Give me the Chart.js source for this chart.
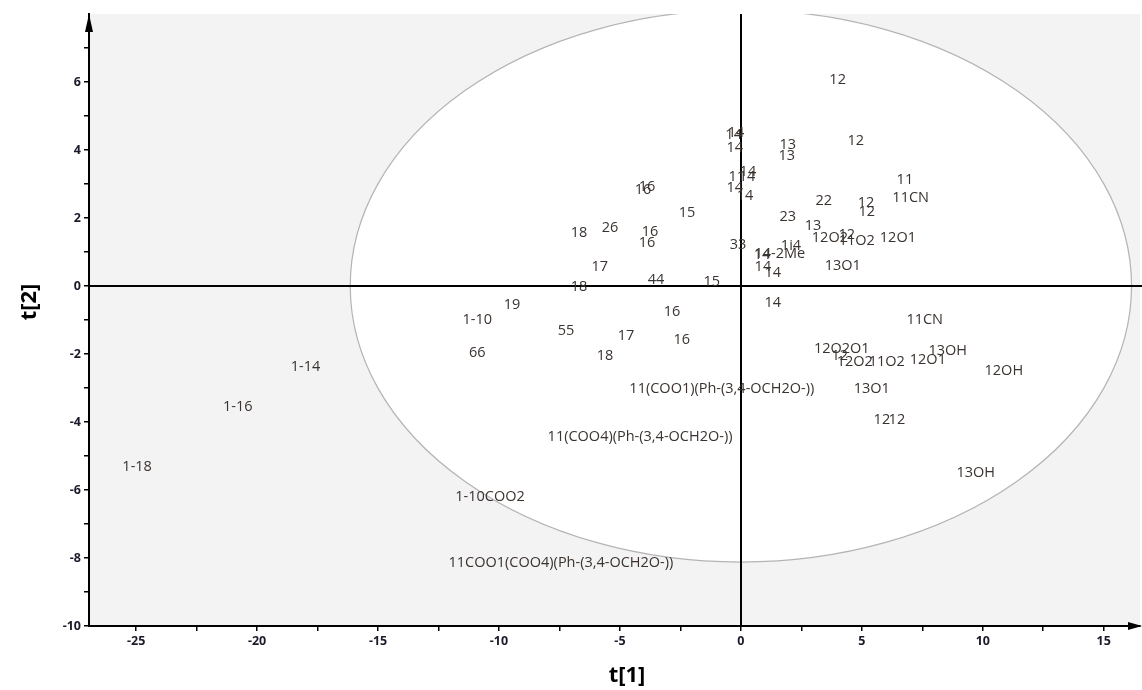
<!DOCTYPE html>
<html lang="en">
<head>
    <meta charset="UTF-8">
    <title>Score plot t[1] / t[2]</title>
    <script src="https://cdn.jsdelivr.net/npm/chart.js"></script>
    <style>
        body { margin: 0; background: #fff; }
        #scoreChart { display: block; }
    </style>
</head>
<body>
    <canvas id="scoreChart" width="1142" height="690"></canvas>
    <script>
        // observation names and their scores
        const names = [
            '12', '14', '14', '14', '13', '13', '12', '14', '11', '14',
            '14', '14', '11', '11CN', '22', '12', '12', '23', '13', '12O2',
            '12', '11O2', '12O1', '33', '1i4', '14-2Me', '14', '14', '14', '13O1',
            '15', '14', '16', '16', '15', '18', '26', '16', '16', '17',
            '18', '44', '19', '1-10', '55', '17', '16', '16', '18', '66',
            '1-14', '1-16', '1-18', '11(COO1)(Ph-(3,4-OCH2O-))', '11(COO4)(Ph-(3,4-OCH2O-))',
            '1-10COO2', '11COO1(COO4)(Ph-(3,4-OCH2O-))', '11CN', '12O2O1', '12',
            '12O2', '11O2', '12O1', '13OH', '12OH', '13O1', '12', '12', '13OH'
        ];
        const t1 = [
            4.0, -0.2, -0.3, -0.25, 1.94, 1.9, 4.75, 0.29, -0.17, 0.25,
            -0.25, 0.17, 6.78, 7.02, 3.43, 5.17, 5.2, 1.94, 2.98, 3.68,
            4.38, 4.79, 6.49, -0.12, 2.07, 1.61, 0.87, 0.91, 1.32, 4.21,
            -1.2, 1.32, -3.88, -4.05, -2.23, -6.69, -5.41, -3.76, -3.88, -5.83,
            -6.69, -3.51, -9.46, -10.9, -7.23, -4.75, -2.85, -2.44, -5.62, -10.9,
            -18.0, -20.8, -24.96, -0.79, -4.17,
            -10.37, -7.44, 7.6, 4.17, 4.09,
            4.71, 6.03, 7.73, 8.55, 10.87, 5.41, 5.83, 6.45, 9.71
        ];
        const t2 = [
            6.06, 4.5, 4.44, 4.06, 4.15, 3.82, 4.26, 3.35, 3.2, 3.2,
            2.88, 2.65, 3.12, 2.59, 2.5, 2.44, 2.18, 2.03, 1.76, 1.41,
            1.5, 1.32, 1.41, 1.2, 1.18, 0.94, 0.91, 0.56, 0.38, 0.59,
            0.12, -0.5, 2.91, 2.82, 2.15, 1.56, 1.71, 1.59, 1.26, 0.56,
            -0.03, 0.18, -0.56, -1.0, -1.32, -1.47, -0.76, -1.59, -2.06, -1.97,
            -2.38, -3.56, -5.32, -3.03, -4.44,
            -6.21, -8.15, -1.0, -1.85, -2.06,
            -2.23, -2.23, -2.18, -1.91, -2.5, -3.03, -3.94, -3.94, -5.5
        ];

        // Hotelling T2 ellipse semi-axes (t[1], t[2])
        const ellipseT1 = 16.15;
        const ellipseT2 = 8.12;

        // axis ticks (major ones get a label)
        const xTicks = [-25, -22.5, -20, -17.5, -15, -12.5, -10, -7.5, -5, -2.5, 0, 2.5, 5, 7.5, 10, 12.5, 15];
        const yTicks = [-10, -9, -8, -7, -6, -5, -4, -3, -2, -1, 0, 1, 2, 3, 4, 5, 6, 7];

        const points = t1.map((v, i) => ({ x: v, y: t2[i], name: names[i] }));

        const plotBg = {
            id: 'plotBg',
            beforeDraw(chart) {
                const { ctx, chartArea: a, scales: { x, y } } = chart;
                ctx.save();
                ctx.fillStyle = '#fff';
                ctx.fillRect(0, 0, chart.width, chart.height);
                ctx.fillStyle = '#f3f3f3';
                ctx.fillRect(a.left, a.top, a.right - a.left, a.bottom - a.top);
                ctx.beginPath();
                ctx.rect(a.left, a.top, a.right - a.left, a.bottom - a.top);
                ctx.clip();
                const cx = x.getPixelForValue(0), cy = y.getPixelForValue(0);
                const rx = x.getPixelForValue(ellipseT1) - cx;
                const ry = cy - y.getPixelForValue(ellipseT2);
                ctx.beginPath();
                ctx.ellipse(cx, cy, rx, ry, 0, 0, Math.PI * 2);
                ctx.fillStyle = '#fff';
                ctx.fill();
                ctx.strokeStyle = '#b4b4b4';
                ctx.lineWidth = 1.2;
                ctx.stroke();
                ctx.restore();
            },
            beforeDatasetsDraw(chart) {
                // zero lines
                const { ctx, chartArea: a, scales: { x, y } } = chart;
                const cx = Math.round(x.getPixelForValue(0)), cy = Math.round(y.getPixelForValue(0));
                ctx.save();
                ctx.strokeStyle = '#000';
                ctx.lineWidth = 2;
                ctx.beginPath();
                ctx.moveTo(a.left, cy);
                ctx.lineTo(chart.width, cy);
                ctx.moveTo(cx, a.top);
                ctx.lineTo(cx, a.bottom);
                ctx.stroke();
                ctx.restore();
            },
            afterDatasetsDraw(chart) {
                const { ctx } = chart;
                const meta = chart.getDatasetMeta(0);
                ctx.save();
                ctx.font = '14.5px "Open Sans"';
                ctx.fillStyle = '#3a3330';
                ctx.textAlign = 'center';
                ctx.textBaseline = 'middle';
                meta.data.forEach((el, i) => {
                    ctx.fillText(points[i].name, el.x, el.y);
                });
                ctx.restore();
            },
            afterDraw(chart) {
                const { ctx, chartArea: a } = chart;
                ctx.save();
                ctx.fillStyle = '#000';
                // arrow on t[2] axis
                ctx.beginPath();
                ctx.moveTo(a.left, a.top);
                ctx.lineTo(a.left - 4, a.top + 18);
                ctx.lineTo(a.left + 4, a.top + 18);
                ctx.closePath();
                ctx.fill();
                // arrow on t[1] axis
                ctx.beginPath();
                ctx.moveTo(chart.width, a.bottom);
                ctx.lineTo(chart.width - 14, a.bottom - 4);
                ctx.lineTo(chart.width - 14, a.bottom + 4);
                ctx.closePath();
                ctx.fill();
                // axis titles
                ctx.font = 'bold 22px "Open Sans"';
                ctx.textAlign = 'center';
                ctx.textBaseline = 'middle';
                ctx.fillText('t[1]', 627, 676);
                ctx.translate(30, 302);
                ctx.rotate(-Math.PI / 2);
                ctx.fillText('t[2]', 0, 0);
                ctx.restore();
            }
        };

        const tickFont = { family: 'Open Sans', size: 12.5, weight: 'bold' };

        new Chart(document.getElementById('scoreChart'), {
            type: 'scatter',
            data: {
                datasets: [{
                    data: points,
                    pointRadius: 0,
                    pointHoverRadius: 0
                }]
            },
            options: {
                responsive: false,
                animation: false,
                devicePixelRatio: 1,
                events: [],
                layout: { padding: { top: 14, right: 2, left: 0, bottom: 0 } },
                plugins: {
                    legend: { display: false },
                    tooltip: { enabled: false }
                },
                scales: {
                    x: {
                        type: 'linear',
                        min: -26.95,
                        max: 16.5,
                        afterBuildTicks: s => { s.ticks = xTicks.map(v => ({ value: v })); },
                        afterFit: s => { s.height = 64; },
                        border: { color: '#000', width: 2 },
                        grid: { drawOnChartArea: false, drawTicks: true, tickLength: 5, color: '#000', lineWidth: 1.5 },
                        ticks: {
                            autoSkip: false,
                            maxRotation: 0,
                            padding: 3,
                            color: '#1a1a2a',
                            font: tickFont,
                            callback: v => (v % 5 === 0 ? v : '')
                        }
                    },
                    y: {
                        type: 'linear',
                        min: -10,
                        max: 8,
                        afterBuildTicks: s => { s.ticks = yTicks.map(v => ({ value: v })); },
                        afterFit: s => { s.width = 89; },
                        border: { color: '#000', width: 2 },
                        grid: { drawOnChartArea: false, drawTicks: true, tickLength: 5, color: '#000', lineWidth: 1.5 },
                        ticks: {
                            autoSkip: false,
                            padding: 3,
                            color: '#1a1a2a',
                            font: tickFont,
                            callback: v => (v % 2 === 0 ? v : '')
                        }
                    }
                }
            },
            plugins: [plotBg]
        });
    </script>
</body>
</html>
